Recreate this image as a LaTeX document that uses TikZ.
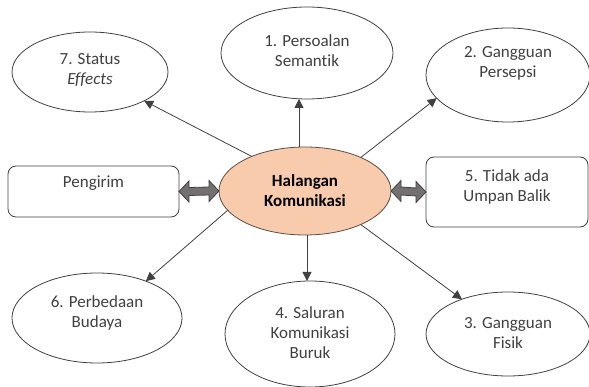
\documentclass[tikz,border=0pt]{standalone}
\usepackage{fontspec}
\setmainfont{Carlito}[Ligatures={NoCommon,NoRare,NoContextual}]
\usetikzlibrary{shapes.geometric,arrows.meta,calc}
\definecolor{txtgray}{HTML}{404040}
\definecolor{linegray}{HTML}{404040}
\definecolor{hubfill}{HTML}{F8CBAD}
\definecolor{hubline}{HTML}{5E4E44}
\definecolor{dblfill}{HTML}{757070}
\tikzset{
  oval/.style={ellipse, draw=linegray, line width=0.8pt, outer sep=0pt, inner sep=0pt},
  rbox/.style={rectangle, rounded corners=8pt, draw=linegray, line width=0.8pt, outer sep=0pt, inner sep=0pt},
  txt/.style={text=txtgray, align=center, font=\fontsize{17}{20}\selectfont},
  conn/.style={-{Triangle[length=9pt,width=9pt]}, line width=0.8pt, draw=linegray},
  dbl/.style={draw=linegray, fill=dblfill, line width=0.8pt, line join=miter}
}
\begin{document}
\begin{tikzpicture}[x=1pt,y=-1pt]
\useasboundingbox (0,0) rectangle (589,387);

% central topic
\node[oval, fill=hubfill, draw=hubline, minimum width=172, minimum height=88,
      font=\fontsize{17}{20}\selectfont\bfseries, align=center] (hub) at (305,191)
      {Halangan\\Komunikasi};

% surrounding barriers
\node[oval, minimum width=156, minimum height=80,
      label={[txt,yshift=2]center:7. Status\\\textit{Effects}}] (p7) at (90,72) {};
\node[oval, minimum width=172, minimum height=92,
      label={[txt,yshift=2]center:1. Persoalan\\Semantik}] (p1) at (307,53) {};
\node[oval, minimum width=164, minimum height=94,
      label={[txt,yshift=12]center:2. Gangguan\\Persepsi}] (p2) at (508,75) {};
\node[oval, minimum width=170, minimum height=90,
      label={[txt,yshift=5]center:6. Perbedaan\\Budaya}] (p6) at (97,318) {};
\node[oval, minimum width=170, minimum height=106,
      label={[txt,yshift=1]center:4. Saluran\\Komunikasi\\Buruk}] (p4) at (310,334) {};
\node[oval, minimum width=164, minimum height=84,
      label={[txt,yshift=1]center:3. Gangguan\\Fisik}] (p3) at (508,334) {};

% side boxes
\node[rbox, minimum width=171, minimum height=51,
      label={[txt,yshift=8]center:Pengirim}] (peng) at (93.5,191.5) {};
\node[rbox, minimum width=162, minimum height=70,
      label={[txt,yshift=5]center:5. Tidak ada\\Umpan Balik}] (umpan) at (507,192) {};

% arrows from the centre
\draw[conn] (hub.147) -- (p7.332);
\draw[conn] ([xshift=-6]hub.north) -- ([xshift=-8]p1.south);
\draw[conn] (hub.31) -- (p2.198);
\draw[conn] (hub.194) -- (p6.37);
\draw[conn] ([xshift=2]hub.south) -- ([xshift=-3]p4.north);
\draw[conn] (hub.329) -- (p3.143);

% double-headed block arrows
\draw[dbl] (peng.east) -- ++(10,-10.5) -- ++(0,6.5) -- ($(hub.west)+(-10,-4)$)
  -- ++(0,-6.5) -- (hub.west) -- ++(-10,10.5) -- ++(0,-6.5)
  -- ($(peng.east)+(10,4)$) -- ++(0,6.5) -- cycle;
\draw[dbl] (hub.east) -- ++(10,-10.5) -- ++(0,6.5) -- ($(umpan.west)+(-10,-4)$)
  -- ++(0,-6.5) -- (umpan.west) -- ++(-10,10.5) -- ++(0,-6.5)
  -- ($(hub.east)+(10,4)$) -- ++(0,6.5) -- cycle;
\end{tikzpicture}
\end{document}
